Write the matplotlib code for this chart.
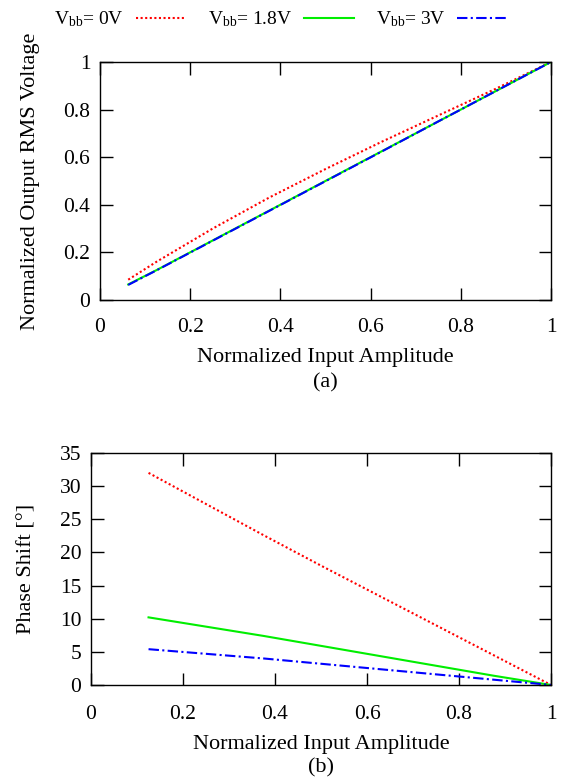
import matplotlib
matplotlib.use("Agg")
import matplotlib.pyplot as plt

plt.rcParams["font.family"] = "Liberation Serif"
plt.rcParams["mathtext.fontset"] = "custom"
plt.rcParams["mathtext.rm"] = "Liberation Serif"
plt.rcParams["mathtext.it"] = "Liberation Serif:italic"

# (a) normalized output RMS voltage
amp_a = [0.0625, 0.125, 0.25, 0.375, 0.5, 0.625, 0.75, 0.875, 1.0]
rms_0v = [0.085, 0.16, 0.30, 0.43, 0.55, 0.665, 0.775, 0.885, 1.0]
rms_18v = [0.065, 0.125, 0.25, 0.375, 0.5, 0.625, 0.75, 0.875, 1.0]
rms_3v = [0.063, 0.124, 0.249, 0.374, 0.499, 0.624, 0.75, 0.875, 1.0]

# (b) phase shift in degrees
amp_b = [0.125, 0.25, 0.375, 0.5, 0.625, 0.75, 0.875, 1.0]
ph_0v = [32.0, 27.3, 22.6, 18.0, 13.5, 9.0, 4.5, 0.0]
ph_18v = [10.2, 8.8, 7.4, 5.9, 4.4, 2.9, 1.4, 0.0]
ph_3v = [5.4, 4.7, 4.0, 3.2, 2.4, 1.6, 0.8, 0.0]

ticks01 = [0, 0.2, 0.4, 0.6, 0.8, 1]
tick_lbl = ["0", "0.2", "0.4", "0.6", "0.8", "1"]
labels = [r"V$_{\rm bb}$= 0V", r"V$_{\rm bb}$= 1.8V", r"V$_{\rm bb}$= 3V"]
styles = [dict(color="#ff0000", ls=(0, (1, 1.2)), lw=1.5),
          dict(color="#00ee00", ls="-", lw=1.5),
          dict(color="#0000ff", ls=(0, (5, 1.6, 1, 1.6)), lw=1.5)]

FS = 16
TFS = 15.5

fig = plt.figure(figsize=(5.62, 7.79), dpi=100)
ax1 = fig.add_axes([0.178, 0.615, 0.8025, 0.3055])
ax2 = fig.add_axes([0.162, 0.1207, 0.8185, 0.2978])

for y, lab, st in zip([rms_0v, rms_18v, rms_3v], labels, styles):
    ax1.plot(amp_a, y, label=lab, **st)
for y, st in zip([ph_0v, ph_18v, ph_3v], styles):
    ax2.plot(amp_b, y, **st)

ax1.set_xlim(0, 1)
ax1.set_ylim(0, 1)
ax1.set_xticks(ticks01)
ax1.set_xticklabels(tick_lbl)
ax1.set_yticks(ticks01)
ax1.set_yticklabels(tick_lbl)
ax1.set_xlabel("Normalized Input Amplitude", fontsize=FS, labelpad=8)
ax1.set_ylabel("Normalized Output RMS Voltage", fontsize=FS, labelpad=17)
ax1.text(0.5, -0.35, "(a)", transform=ax1.transAxes, ha="center",
         va="center", fontsize=FS)

ax2.set_xlim(0, 1)
ax2.set_ylim(0, 35)
ax2.set_xticks(ticks01)
ax2.set_xticklabels(tick_lbl)
ax2.set_yticks(range(0, 36, 5))
ax2.set_xlabel("Normalized Input Amplitude", fontsize=FS, labelpad=8)
ax2.set_ylabel("Phase Shift [°]", fontsize=FS, labelpad=17)
ax2.text(0.5, -0.357, "(b)", transform=ax2.transAxes, ha="center",
         va="center", fontsize=FS)

for ax in (ax1, ax2):
    ax.tick_params(direction="in", length=9, width=1, top=True, right=True,
                   labelsize=TFS)
    ax.tick_params(axis="x", pad=13)
    ax.tick_params(axis="y", pad=7)
    for sp in ax.spines.values():
        sp.set_linewidth(1)
ax2.tick_params(axis="x", pad=14.5)

fig.legend(loc="upper center", bbox_to_anchor=(0.5, 1.01), ncol=3,
           frameon=False, markerfirst=False, fontsize=14, handlelength=2.6,
           columnspacing=1.1, handletextpad=0.6)

fig.savefig("out.png", dpi=100)
